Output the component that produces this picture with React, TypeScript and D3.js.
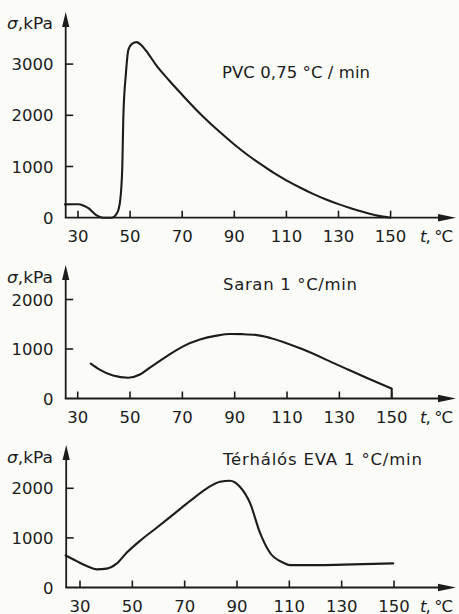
import React from "react";
import * as d3 from "d3";

// Temperature (°C) and shrink stress (kPa) for each film
const pvcT = [25, 30, 32, 34, 37, 39.6, 43, 45, 46.2, 47, 47.4, 48.4, 49.3, 50.8, 52.5, 54.5, 57, 60, 65, 70, 75, 80, 85, 90, 95, 100, 105, 110, 115, 120, 125, 130, 135, 140, 145, 150];
const pvcS = [260, 262, 240, 185, 50, 0, 0, 90, 340, 990, 1960, 2820, 3270, 3400, 3430, 3360, 3200, 2980, 2680, 2400, 2130, 1880, 1650, 1430, 1230, 1050, 880, 730, 595, 470, 360, 265, 180, 105, 40, 0];

const saranT = [35, 38.4, 43.5, 49.3, 53.8, 57.6, 64, 70.3, 76.7, 83.1, 88.2, 93, 98, 103.6, 116.2, 129.1, 141.9, 150];
const saranS = [706, 585, 464, 420, 484, 625, 853, 1054, 1190, 1270, 1304, 1300, 1285, 1224, 988, 685, 383, 200];

const evaT = [24.5, 28.7, 32.6, 36.4, 40.2, 44, 47.8, 52.9, 59.3, 65.7, 72.1, 78.5, 83.5, 87.3, 91.1, 95, 98.8, 102.6, 107.7, 110.2, 121.7, 134.4, 149.7];
const evaS = [646, 532, 432, 366, 380, 480, 700, 940, 1205, 1475, 1745, 2000, 2132, 2152, 2032, 1700, 1100, 700, 500, 452, 452, 466, 486];

const xTicks = [30, 50, 70, 90, 110, 130, 150];
const yTicksPvc = [0, 1000, 2000, 3000];
const yTicksSmall = [0, 1000, 2000];

const titles = ["PVC 0,75 °C / min", "Saran 1 °C/min", "Térhálós EVA 1 °C/min"];

const INK = "#1c1c1c";
const FONT = "'DejaVu Sans', sans-serif";

type Panel = {
  t: number[];
  s: number[];
  yTicks: number[];
  yMax: number;
  title: string;
  titleW: number;
  titleX: number;
  titleY: number;
  xRange: [number, number];
  yRange: [number, number];
  axisX: number;
  arrowTop: number;
  labelY: number;
  dropEnd?: boolean;
};

const panels: Panel[] = [
  {
    t: pvcT, s: pvcS, yTicks: yTicksPvc, yMax: 3000, title: titles[0], titleW: 148,
    titleX: 222, titleY: 77.5, xRange: [78, 390.6], yRange: [217.7, 64.1],
    axisX: 65.7, arrowTop: 12, labelY: 29,
  },
  {
    t: saranT, s: saranS, yTicks: yTicksSmall, yMax: 2000, title: titles[1], titleW: 134,
    titleX: 223, titleY: 290, xRange: [77.7, 391.7], yRange: [398.5, 299.5],
    axisX: 65.7, arrowTop: 265, labelY: 283, dropEnd: true,
  },
  {
    t: evaT, s: evaS, yTicks: yTicksSmall, yMax: 2000, title: titles[2], titleW: 199,
    titleX: 223, titleY: 465, xRange: [80, 394], yRange: [587.5, 488.3],
    axisX: 66.2, arrowTop: 445, labelY: 463,
  },
];

function PanelView({ p }: { p: Panel }) {
  const x = d3.scaleLinear().domain([30, 150]).range(p.xRange);
  const y = d3.scaleLinear().domain([0, p.yMax]).range(p.yRange);
  const y0 = y(0);
  const pts: [number, number][] = p.t.map((t, i) => [t, p.s[i]]);
  const line = d3
    .line<[number, number]>()
    .x((d) => x(d[0]))
    .y((d) => y(d[1]))
    .curve(d3.curveMonotoneX);
  const last = pts[pts.length - 1];
  const xEnd = 456;
  return (
    <g>
      {/* axes */}
      <line x1={p.axisX} x2={p.axisX} y1={p.arrowTop + 10} y2={y0} stroke={INK} strokeWidth={1.8} />
      <path
        d={`M${p.axisX},${p.arrowTop} L${p.axisX - 3.6},${p.arrowTop + 15} L${p.axisX + 3.6},${p.arrowTop + 15} Z`}
        fill={INK}
      />
      <line x1={p.axisX - 0.9} x2={xEnd - 12} y1={y0} y2={y0} stroke={INK} strokeWidth={1.8} />
      <path d={`M${xEnd},${y0} L${xEnd - 18},${y0 - 3.8} L${xEnd - 18},${y0 + 3.8} Z`} fill={INK} />
      {xTicks.map((t) => (
        <g key={t}>
          <line x1={x(t)} x2={x(t)} y1={y0} y2={y0 - 7} stroke={INK} strokeWidth={1.6} />
          <text x={x(t)} y={y0 + 24} textAnchor="middle" fontSize={16.5} fontFamily={FONT} fill={INK}>
            {t}
          </text>
        </g>
      ))}
      {p.yTicks.map((v) => (
        <g key={v}>
          {v > 0 && <line x1={p.axisX} x2={p.axisX + 7.5} y1={y(v)} y2={y(v)} stroke={INK} strokeWidth={1.6} />}
          <text x={53.5} y={y(v) + 6} textAnchor="end" fontSize={16.5} fontFamily={FONT} fill={INK}>
            {v}
          </text>
        </g>
      ))}
      <text x={7} y={p.labelY} fontSize={16.5} fontFamily={FONT} fill={INK} textLength={46} lengthAdjust="spacingAndGlyphs">
        <tspan fontStyle="italic">σ</tspan>,kPa
      </text>
      <text x={420} y={y0 + 24} fontSize={16.5} fontFamily={FONT} fill={INK} textLength={33} lengthAdjust="spacing">
        <tspan fontStyle="italic">t</tspan>, °C
      </text>
      <text x={p.titleX} y={p.titleY} fontSize={16.5} fontFamily={FONT} fill={INK} textLength={p.titleW} lengthAdjust="spacing">
        {p.title}
      </text>
      {/* curve */}
      <path d={line(pts) ?? ""} fill="none" stroke={INK} strokeWidth={2.1} strokeLinejoin="round" strokeLinecap="round" />
      {p.dropEnd && (
        <line x1={x(last[0])} x2={x(last[0])} y1={y(last[1])} y2={y0} stroke={INK} strokeWidth={2} />
      )}
    </g>
  );
}

export default function App() {
  return (
    <svg
      width={459}
      height={614}
      viewBox="0 0 459 614"
      style={{ position: "absolute", left: 0, top: 0, background: "#fbfbf8" }}
    >
      <rect width={459} height={614} fill="#fbfbf8" />
      {panels.map((p, i) => (
        <PanelView key={i} p={p} />
      ))}
    </svg>
  );
}
